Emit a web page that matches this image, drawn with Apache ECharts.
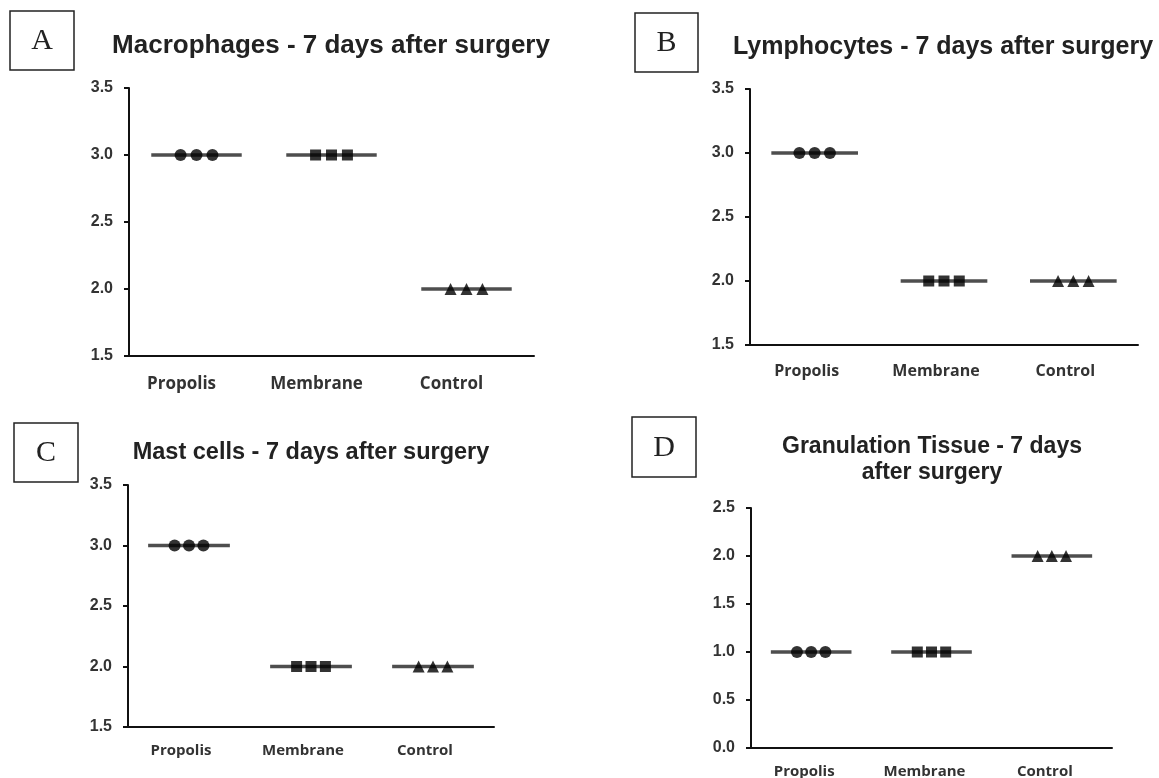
<!DOCTYPE html>
<html>
<head>
<meta charset="utf-8">
<script src="https://cdn.jsdelivr.net/npm/echarts@6/dist/echarts.min.js"></script>
<style>
html, body { margin: 0; padding: 0; background: #fff; }
#chart { width: 1159px; height: 778px; }
</style>
</head>
<body>
<div id="chart"></div>
<script>
var groups = ['Propolis', 'Membrane', 'Control'];
var groupSymbols = ['circle', 'rect', 'triangle'];

// scores of the three animals in each group
var macrophages = [[3, 3, 3], [3, 3, 3], [2, 2, 2]];
var lymphocytes = [[3, 3, 3], [2, 2, 2], [2, 2, 2]];
var mastCells   = [[3, 3, 3], [2, 2, 2], [2, 2, 2]];
var granulation = [[1, 1, 1], [1, 1, 1], [2, 2, 2]];

var yTicksCells = [1.5, 2.0, 2.5, 3.0, 3.5];
var yTicksTissue = [0.0, 0.5, 1.0, 1.5, 2.0, 2.5];

var panelTitles = [
	'Macrophages - 7 days after surgery',
	'Lymphocytes - 7 days after surgery',
	'Mast cells - 7 days after surgery',
	'Granulation Tissue - 7 days\nafter surgery'
];
var panelLetters = ['A', 'B', 'C', 'D'];

// layout of the four panels (cshift: labels sit a bit left of their ticks)
var panels = [
	{ data: macrophages, ticks: yTicksCells, grid: {left: 129, top: 88, width: 405, height: 268},
	  box: [10, 11, 64, 59], tx: 331, ty: 46, tsize: 26, csize: 17, cmargin: 20, cshift: 15 },
	{ data: lymphocytes, ticks: yTicksCells, grid: {left: 750, top: 89, width: 388, height: 256},
	  box: [635, 13, 63, 59], tx: 943, ty: 47, tsize: 25, csize: 16, cmargin: 18, cshift: 8 },
	{ data: mastCells, ticks: yTicksCells, grid: {left: 128, top: 485, width: 366, height: 242},
	  box: [14, 423, 64, 59], tx: 311, ty: 453, tsize: 23.5, csize: 15, cmargin: 16, cshift: 8 },
	{ data: granulation, ticks: yTicksTissue, grid: {left: 751, top: 508, width: 361, height: 240},
	  box: [632, 417, 64, 60], tx: 932, ty: 460, tsize: 23, csize: 15, cmargin: 16, cshift: 7 }
];

function median(arr) {
	var s = arr.slice().sort(function(a, b) { return a - b; });
	var m = Math.floor(s.length / 2);
	return s.length % 2 ? s[m] : (s[m - 1] + s[m]) / 2;
}

var grids = [], xAxes = [], yAxes = [], series = [], graphics = [];

for (var p = 0; p < panels.length; p++) {
	var pn = panels[p];
	var band = pn.grid.width / groups.length;
	var g = pn.grid;
	grids.push({ left: g.left, top: g.top, width: g.width, height: g.height, outerBoundsMode: 'none' });

	xAxes.push({
		type: 'category', gridIndex: p, data: groups, boundaryGap: true,
		axisLine: { lineStyle: { color: '#111', width: 2 } },
		axisTick: { alignWithLabel: true, length: 7, lineStyle: { color: '#111', width: 2 } },
		axisLabel: { fontFamily: 'Open Sans', fontWeight: 'bold', fontSize: pn.csize, color: '#333',
			margin: pn.cmargin, padding: [0, pn.cshift * 2, 0, 0] },
		splitLine: { show: false }
	});
	yAxes.push({
		type: 'value', gridIndex: p,
		min: pn.ticks[0], max: pn.ticks[pn.ticks.length - 1], interval: 0.5,
		axisLine: { show: true, lineStyle: { color: '#111', width: 2 } },
		axisTick: { show: true, length: 5, lineStyle: { color: '#111', width: 2 } },
		axisLabel: { fontFamily: 'Liberation Sans', fontWeight: 'bold', fontSize: 16, color: '#333', margin: 16,
			formatter: function(v) { return v.toFixed(1); } },
		splitLine: { show: false }
	});

	// median bar of each group
	series.push({
		type: 'scatter', xAxisIndex: p, yAxisIndex: p, z: 2,
		symbol: 'rect', symbolSize: [band * 0.67, 3.5],
		itemStyle: { color: '#222' },
		data: pn.data.map(function(d) { return median(d); })
	});
	// one series per animal, spread sideways
	for (var r = 0; r < 3; r++) {
		series.push({
			type: 'scatter', xAxisIndex: p, yAxisIndex: p, z: 3,
			symbolOffset: [(r - 1) * band * 0.118, 0],
			itemStyle: { color: '#000' },
			data: pn.data.map(function(d, i) {
				return { value: d[r], symbol: groupSymbols[i], symbolSize: i == 1 ? 11 : 12 };
			})
		});
	}

	graphics.push({
		type: 'rect',
		shape: { x: pn.box[0], y: pn.box[1], width: pn.box[2], height: pn.box[3] },
		style: { fill: '#fff', stroke: '#222', lineWidth: 1.5 }
	});
	graphics.push({
		type: 'text', x: pn.box[0] + pn.box[2] / 2, y: pn.box[1] + pn.box[3] / 2 + 1,
		style: { text: panelLetters[p], fontFamily: 'Liberation Serif', fontSize: 30, fill: '#222',
			align: 'center', verticalAlign: 'middle' }
	});
	graphics.push({
		type: 'text', x: pn.tx, y: pn.ty,
		style: { text: panelTitles[p], fontFamily: 'Liberation Sans', fontWeight: 'bold', fontSize: pn.tsize,
			lineHeight: 26, fill: '#222', align: 'center', verticalAlign: 'middle' }
	});
}

var myChart = echarts.init(document.getElementById('chart'));
myChart.setOption({
	backgroundColor: '#fff',
	animation: false,
	grid: grids,
	xAxis: xAxes,
	yAxis: yAxes,
	series: series,
	graphic: graphics
});
</script>
</body>
</html>
